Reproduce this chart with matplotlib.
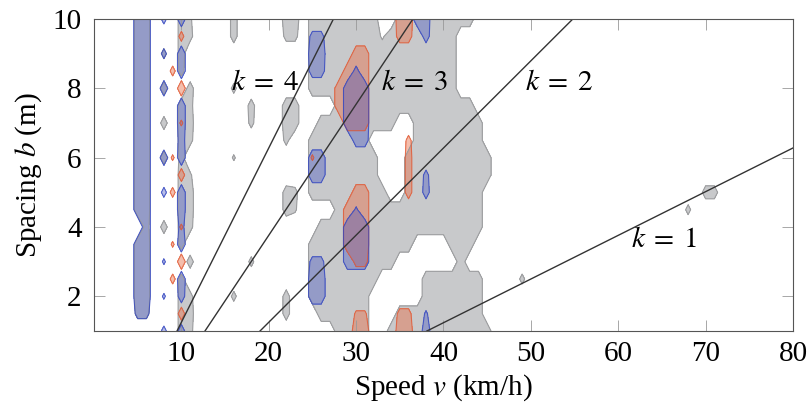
import numpy as np
import matplotlib
matplotlib.use("Agg")
import matplotlib.pyplot as plt

plt.rcParams["font.family"] = ["Liberation Serif", "DejaVu Serif"]
plt.rcParams["mathtext.fontset"] = "stix"

# grid of the measured field: speed v (km/h) x spacing b (m)
v_grid = np.arange(0, 81)
b_grid = np.arange(1, 10.5, 0.5)

# runs of cells above threshold: (b, v_from, v_to, strength 0..9)
gray_runs = [
    (10, 5, 6, 8), (10, 10, 10, 8), (10, 11, 11, 6), (10, 16, 16, 8), (10, 22, 23, 9), (10, 25, 32, 9), (10, 35, 43, 9),
    (9.5, 5, 6, 8), (9.5, 10, 10, 8), (9.5, 11, 11, 7), (9.5, 16, 16, 8), (9.5, 22, 23, 7), (9.5, 25, 32, 9), (9.5, 33, 33, 4), (9.5, 34, 41, 9),
    (9, 5, 6, 8), (9, 8, 8, 7), (9, 10, 10, 8), (9, 25, 41, 9),
    (8.5, 5, 6, 8), (8.5, 10, 10, 7), (8.5, 25, 41, 9),
    (8, 5, 6, 8), (8, 8, 8, 8), (8, 11, 11, 8), (8, 16, 16, 7), (8, 25, 41, 9),
    (7.5, 5, 6, 8), (7.5, 10, 10, 8), (7.5, 11, 11, 7), (7.5, 18, 18, 8), (7.5, 22, 23, 9), (7.5, 28, 43, 9),
    (7, 5, 6, 8), (7, 8, 8, 8), (7, 10, 10, 8), (7, 11, 11, 8), (7, 18, 18, 7), (7, 22, 23, 9), (7, 26, 34, 9), (7, 37, 44, 9),
    (6.5, 5, 6, 8), (6.5, 10, 10, 8), (6.5, 11, 11, 7), (6.5, 22, 22, 7), (6.5, 25, 31, 9), (6.5, 37, 44, 9),
    (6, 5, 6, 8), (6, 8, 8, 8), (6, 10, 10, 7), (6, 16, 16, 6), (6, 25, 32, 9), (6, 36, 45, 9),
    (5.5, 5, 6, 8), (5.5, 10, 10, 8), (5.5, 11, 11, 6), (5.5, 25, 32, 9), (5.5, 36, 45, 9),
    (5, 5, 6, 8), (5, 10, 10, 8), (5, 11, 11, 8), (5, 22, 22, 8), (5, 23, 23, 7), (5, 25, 33, 9), (5, 36, 44, 9),
    (5, 70, 71, 8),
    (4.5, 5, 6, 8), (4.5, 10, 10, 8), (4.5, 11, 11, 8), (4.5, 22, 22, 8), (4.5, 23, 23, 6), (4.5, 28, 44, 9),
    (4.5, 68, 68, 7),
    (4, 6, 6, 7), (4, 8, 8, 8), (4, 10, 10, 8), (4, 11, 11, 7), (4, 26, 44, 9),
    (3.5, 5, 6, 8), (3.5, 10, 10, 7), (3.5, 25, 36, 9), (3.5, 41, 43, 9),
    (3, 5, 6, 8), (3, 11, 11, 8), (3, 18, 18, 7), (3, 25, 34, 9), (3, 42, 42, 9),
    (2.5, 5, 6, 8), (2.5, 10, 10, 7), (2.5, 25, 32, 9), (2.5, 38, 44, 9), (2.5, 49, 49, 7),
    (2, 5, 6, 8), (2, 10, 10, 8), (2, 11, 11, 7), (2, 16, 16, 7), (2, 22, 22, 8), (2, 25, 31, 9), (2, 38, 44, 9),
    (1.5, 5, 6, 7), (1.5, 10, 10, 8), (1.5, 11, 11, 8), (1.5, 22, 22, 8), (1.5, 26, 31, 9), (1.5, 35, 44, 9),
    (1, 10, 10, 8), (1, 11, 11, 7), (1, 28, 31, 9), (1, 34, 45, 9),
]

orange_runs = [
    (10, 35, 36, 9),
    (9.5, 10, 10, 7), (9.5, 35, 36, 8),
    (9, 30, 31, 9),
    (8.5, 9, 9, 7), (8.5, 29, 31, 9),
    (8, 10, 10, 9), (8, 28, 31, 9),
    (7.5, 28, 31, 9),
    (7, 10, 10, 6), (7, 29, 31, 9),
    (6.5, 36, 36, 7),
    (6, 9, 9, 6), (6, 25, 25, 6), (6, 36, 36, 8),
    (5.5, 10, 10, 8), (5.5, 36, 36, 8),
    (5, 9, 9, 7), (5, 30, 31, 9), (5, 36, 36, 8),
    (4.5, 29, 31, 9),
    (4, 10, 10, 6), (4, 29, 31, 9),
    (3.5, 9, 9, 6), (3.5, 29, 31, 9),
    (3, 10, 10, 9), (3, 30, 31, 7),
    (2.5, 9, 9, 7),
    (1.5, 10, 10, 8), (1.5, 30, 31, 6), (1.5, 35, 36, 7),
    (1, 30, 31, 9), (1, 35, 36, 9),
]

blue_runs = [
    (10, 5, 6, 9), (10, 8, 8, 7), (10, 10, 10, 9), (10, 37, 38, 9),
    (9.5, 5, 6, 9), (9.5, 25, 26, 7), (9.5, 38, 38, 8),
    (9, 5, 6, 9), (9, 8, 8, 7), (9, 10, 10, 9), (9, 25, 26, 9),
    (8.5, 5, 6, 9), (8.5, 10, 10, 9), (8.5, 25, 26, 8), (8.5, 30, 30, 7),
    (8, 5, 6, 9), (8, 8, 8, 9), (8, 29, 31, 9),
    (7.5, 5, 6, 9), (7.5, 10, 10, 9), (7.5, 29, 31, 9),
    (7, 5, 6, 9), (7, 10, 10, 9), (7, 29, 31, 9),
    (6.5, 5, 6, 9), (6.5, 10, 10, 8), (6.5, 30, 31, 8),
    (6, 5, 6, 9), (6, 8, 8, 9), (6, 10, 10, 9), (6, 25, 26, 9),
    (5.5, 5, 6, 9), (5.5, 25, 26, 9), (5.5, 38, 38, 7),
    (5, 5, 6, 9), (5, 8, 8, 7), (5, 10, 10, 9), (5, 38, 38, 8),
    (4.5, 5, 6, 9), (4.5, 10, 10, 9), (4.5, 30, 30, 6),
    (4, 6, 6, 9), (4, 10, 10, 7), (4, 29, 31, 9),
    (3.5, 5, 6, 9), (3.5, 10, 10, 9), (3.5, 29, 31, 9),
    (3, 5, 6, 9), (3, 8, 8, 6), (3, 25, 26, 7), (3, 29, 31, 9),
    (2.5, 5, 6, 9), (2.5, 10, 10, 9), (2.5, 25, 26, 9),
    (2, 5, 6, 9), (2, 8, 8, 6), (2, 10, 10, 8), (2, 25, 26, 9),
    (1.5, 5, 6, 7), (1.5, 38, 38, 6),
    (1, 8, 8, 7), (1, 10, 10, 8), (1, 38, 38, 9),
]

# resonance lines k = 1..4, end points
k_values = [1, 2, 3, 4]
line_v = [(38.1, 80.0), (19.0, 54.8), (12.7, 36.5), (9.5, 27.4)]
line_b = [(1.0, 6.28), (1.0, 10.0), (1.0, 10.0), (1.0, 10.0)]
label_pos = [(65.3, 3.63), (53.3, 8.15), (36.7, 8.15), (19.6, 8.15)]

x_ticks = [10, 20, 30, 40, 50, 60, 70, 80]
y_ticks = [2, 4, 6, 8, 10]


def field(runs):
    z = np.zeros((len(b_grid), len(v_grid)))
    for b, v0, v1, val in runs:
        i = int(round((b - 1) / 0.5))
        z[i, v0:v1 + 1] = val
    return z


fig = plt.figure(figsize=(8.09, 4.08), dpi=100)
ax = fig.add_axes([0.1162, 0.1887, 0.864, 0.7647])

zg = field(gray_runs)
zo = field(orange_runs)
zb = field(blue_runs)

ax.contourf(v_grid, b_grid, zg, levels=[5, 10], colors=["#c8c9cb"])
ax.contour(v_grid, b_grid, zg, levels=[5], colors=["#9c9d9f"], linewidths=0.8)
ax.contourf(v_grid, b_grid, zo, levels=[5, 10], colors=["#e87048"], alpha=0.45)
ax.contour(v_grid, b_grid, zo, levels=[5], colors=["#e05530"], linewidths=0.8, alpha=0.75)
ax.contourf(v_grid, b_grid, zb, levels=[5, 10], colors=["#3a4cc0"], alpha=0.36)
ax.contour(v_grid, b_grid, zb, levels=[5], colors=["#3346c0"], linewidths=0.8, alpha=0.8)

for k, vs, bs, (tx, ty) in zip(k_values, line_v, line_b, label_pos):
    ax.plot(vs, bs, color="#333333", lw=1.0)
    ax.text(tx, ty, rf"$k\;=\;{k}$", fontsize=21, ha="center", va="center")

ax.set_xlim(0, 80)
ax.set_ylim(1, 10)
ax.set_xticks(x_ticks)
ax.set_yticks(y_ticks)
ax.tick_params(direction="in", top=True, right=True, length=8, width=0.6,
               color="#999999", labelsize=21)
ax.tick_params(axis="x", pad=7)
ax.tick_params(axis="y", pad=9)
for s in ax.spines.values():
    s.set_color("#555555")
    s.set_linewidth(0.8)

ax.set_xlabel("Speed $v$ (km/h)", fontsize=21, labelpad=4)
ax.set_ylabel("Spacing $b$ (m)", fontsize=21, labelpad=6)

fig.savefig("out.png", dpi=100)
